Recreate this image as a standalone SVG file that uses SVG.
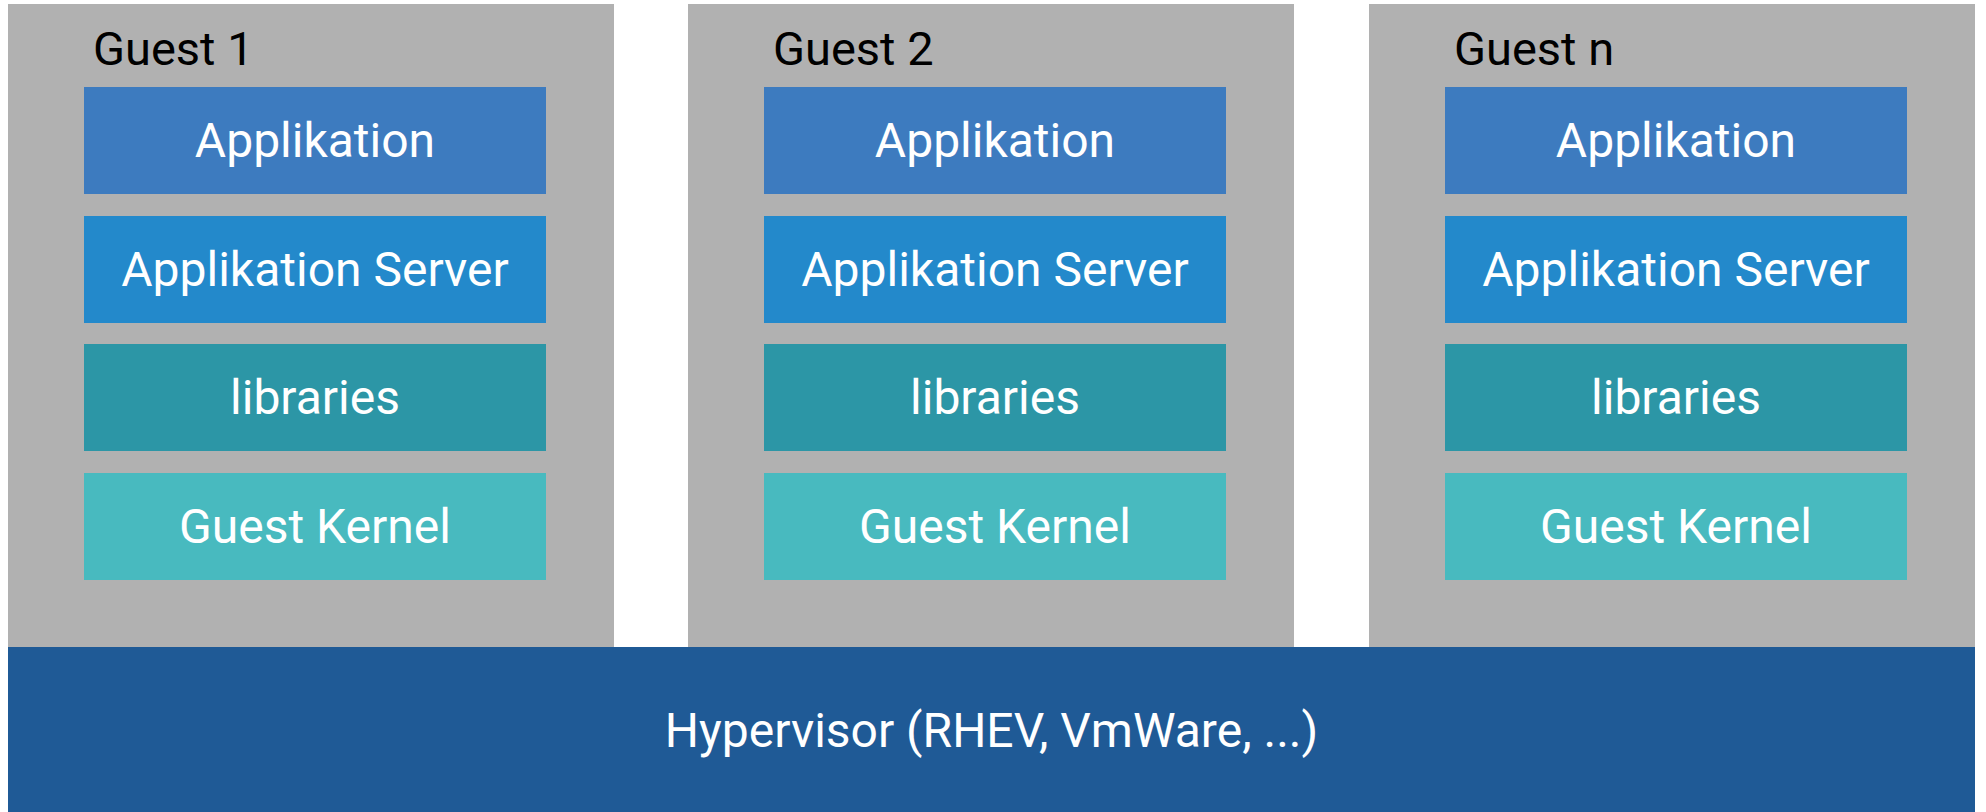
<svg xmlns="http://www.w3.org/2000/svg" width="1986" height="812" viewBox="0 0 1986 812">
<style>
.guest{fill:#b1b1b1}
.app{fill:#3d7bbf}
.srv{fill:#2389cb}
.lib{fill:#2c96a6}
.krn{fill:#48babf}
.hyp{fill:#1f5a96}
.lbl{font-family:Roboto,"Liberation Sans",sans-serif;font-size:48px;fill:#ffffff;text-anchor:middle}
.glbl{font-family:Roboto,"Liberation Sans",sans-serif;font-size:47px;fill:#000000}
</style>
<rect width="1986" height="812" fill="#ffffff"/>
<g id="hypervisor">
<rect class="hyp" x="8" y="647" width="1967" height="165"/>
<text class="lbl" x="991.5" y="747">Hypervisor (RHEV, VmWare, ...)</text>
</g>
<g id="guest1">
<rect class="guest" x="8" y="4" width="606" height="643"/>
<text class="glbl" x="93" y="65">Guest 1</text>
<g id="guest1-app"><rect class="app" x="84" y="87" width="462" height="107"/><text class="lbl" x="315" y="157">Applikation</text></g>
<g id="guest1-srv"><rect class="srv" x="84" y="216" width="462" height="107"/><text class="lbl" x="315" y="286">Applikation Server</text></g>
<g id="guest1-lib"><rect class="lib" x="84" y="344" width="462" height="107"/><text class="lbl" x="315" y="414">libraries</text></g>
<g id="guest1-krn"><rect class="krn" x="84" y="473" width="462" height="107"/><text class="lbl" x="315" y="543">Guest Kernel</text></g>
</g>
<g id="guest2">
<rect class="guest" x="688" y="4" width="606" height="643"/>
<text class="glbl" x="773" y="65">Guest 2</text>
<g id="guest2-app"><rect class="app" x="764" y="87" width="462" height="107"/><text class="lbl" x="995" y="157">Applikation</text></g>
<g id="guest2-srv"><rect class="srv" x="764" y="216" width="462" height="107"/><text class="lbl" x="995" y="286">Applikation Server</text></g>
<g id="guest2-lib"><rect class="lib" x="764" y="344" width="462" height="107"/><text class="lbl" x="995" y="414">libraries</text></g>
<g id="guest2-krn"><rect class="krn" x="764" y="473" width="462" height="107"/><text class="lbl" x="995" y="543">Guest Kernel</text></g>
</g>
<g id="guestn">
<rect class="guest" x="1369" y="4" width="606" height="643"/>
<text class="glbl" x="1454" y="65">Guest n</text>
<g id="guestn-app"><rect class="app" x="1445" y="87" width="462" height="107"/><text class="lbl" x="1676" y="157">Applikation</text></g>
<g id="guestn-srv"><rect class="srv" x="1445" y="216" width="462" height="107"/><text class="lbl" x="1676" y="286">Applikation Server</text></g>
<g id="guestn-lib"><rect class="lib" x="1445" y="344" width="462" height="107"/><text class="lbl" x="1676" y="414">libraries</text></g>
<g id="guestn-krn"><rect class="krn" x="1445" y="473" width="462" height="107"/><text class="lbl" x="1676" y="543">Guest Kernel</text></g>
</g>
<g id="connectors"></g>
</svg>
